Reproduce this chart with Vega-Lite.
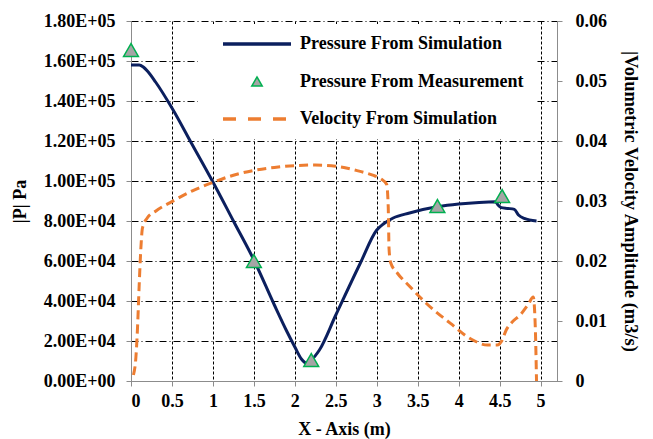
{
  "$schema": "https://vega.github.io/schema/vega-lite/v6.json",
  "width": 426,
  "height": 360,
  "autosize": {"type": "none"},
  "padding": {"left": 131, "top": 21, "right": 96, "bottom": 58},
  "background": "white",
  "config": {"view": {"stroke": null}, "font": "Liberation Serif", "axis": {"labelOverlap": false}},
  "datasets": {
    "pressure": [
      {"x": 0, "p": 158000}, {"x": 0.1, "p": 158000}, {"x": 0.15, "p": 157000}, {"x": 0.2, "p": 155000},
      {"x": 0.3, "p": 149500}, {"x": 0.5, "p": 136500}, {"x": 0.75, "p": 118000}, {"x": 1.0, "p": 99500},
      {"x": 1.25, "p": 80000}, {"x": 1.5, "p": 60500}, {"x": 1.75, "p": 38000}, {"x": 1.9, "p": 25000},
      {"x": 2.0, "p": 17000}, {"x": 2.08, "p": 11000}, {"x": 2.14, "p": 9000}, {"x": 2.2, "p": 10500},
      {"x": 2.3, "p": 15500}, {"x": 2.5, "p": 33000}, {"x": 2.8, "p": 59000}, {"x": 3.0, "p": 75500},
      {"x": 3.08, "p": 78500}, {"x": 3.2, "p": 81500}, {"x": 3.4, "p": 84000}, {"x": 3.75, "p": 87200},
      {"x": 4.0, "p": 88500}, {"x": 4.25, "p": 89300}, {"x": 4.45, "p": 89600}, {"x": 4.48, "p": 88000},
      {"x": 4.52, "p": 86700}, {"x": 4.6, "p": 86300}, {"x": 4.68, "p": 85800}, {"x": 4.73, "p": 83000},
      {"x": 4.8, "p": 81300}, {"x": 4.95, "p": 80000}
    ],
    "measured": [
      {"x": 0, "p": 165500}, {"x": 1.5, "p": 60000}, {"x": 2.2, "p": 10500},
      {"x": 3.74, "p": 87500}, {"x": 4.53, "p": 92500}
    ],
    "velocity": [
      {"x": 0.03, "v": 0.001}, {"x": 0.06, "v": 0.004}, {"x": 0.08, "v": 0.009}, {"x": 0.1, "v": 0.016},
      {"x": 0.12, "v": 0.022}, {"x": 0.14, "v": 0.0255}, {"x": 0.2, "v": 0.0272}, {"x": 0.3, "v": 0.0283},
      {"x": 0.5, "v": 0.0299}, {"x": 0.75, "v": 0.0317}, {"x": 1.0, "v": 0.0331}, {"x": 1.25, "v": 0.0343},
      {"x": 1.5, "v": 0.0351}, {"x": 1.75, "v": 0.0356}, {"x": 2.0, "v": 0.0359}, {"x": 2.25, "v": 0.036},
      {"x": 2.5, "v": 0.0358}, {"x": 2.75, "v": 0.0351}, {"x": 2.95, "v": 0.0343}, {"x": 3.05, "v": 0.0337},
      {"x": 3.12, "v": 0.0328}, {"x": 3.14, "v": 0.029}, {"x": 3.15, "v": 0.022}, {"x": 3.17, "v": 0.0197},
      {"x": 3.25, "v": 0.018}, {"x": 3.4, "v": 0.0158}, {"x": 3.6, "v": 0.013}, {"x": 3.9, "v": 0.0096},
      {"x": 4.15, "v": 0.007}, {"x": 4.35, "v": 0.006}, {"x": 4.47, "v": 0.006}, {"x": 4.53, "v": 0.0068},
      {"x": 4.58, "v": 0.0085}, {"x": 4.65, "v": 0.0098}, {"x": 4.75, "v": 0.011}, {"x": 4.85, "v": 0.0128},
      {"x": 4.91, "v": 0.014}, {"x": 4.935, "v": 0.009}, {"x": 4.95, "v": 0.0}
    ]
  },
  "layer": [
    {
      "encoding": {
        "x": {
          "field": "x", "type": "quantitative",
          "scale": {"domain": [0, 5.2], "nice": false, "zero": false},
          "axis": {
            "values": [0, 0.5, 1, 1.5, 2, 2.5, 3, 3.5, 4, 4.5, 5],
            "tickCount": 30,
            "format": "~g", "labelOverlap": false,
            "grid": true, "gridColor": "black", "gridDash": [3, 2], "gridWidth": 1, "gridOpacity": 1,
            "domainColor": "#8c8c8c", "tickColor": "#8c8c8c", "tickSize": 5,
            "labelFont": "Liberation Serif", "labelFontWeight": "bold", "labelFontSize": 18,
            "labelColor": "black", "labelPadding": 6,
            "title": "X - Axis (m)", "titleFont": "Liberation Serif", "titleFontWeight": "bold",
            "titleFontSize": 18, "titleColor": "black", "titlePadding": 10
          }
        },
        "y": {
          "field": "p", "type": "quantitative",
          "scale": {"domain": [0, 180000], "nice": false},
          "axis": {
            "values": [0, 20000, 40000, 60000, 80000, 100000, 120000, 140000, 160000, 180000],
            "tickCount": 30,
            "labelExpr": "replace(format(datum.value, '.2e'), 'e+', 'E+0')", "labelOverlap": false,
            "grid": true, "gridColor": "black", "gridDash": [7, 3, 1, 3], "gridWidth": 1, "gridOpacity": 1,
            "domainColor": "#8c8c8c", "tickColor": "#8c8c8c", "tickSize": 5,
            "labelFont": "Liberation Serif", "labelFontWeight": "bold", "labelFontSize": 18,
            "labelColor": "black", "labelPadding": 11,
            "title": "|P| Pa", "titleFont": "Liberation Serif", "titleFontWeight": "bold",
            "titleFontSize": 18, "titleColor": "black", "titlePadding": 14
          }
        }
      },
      "layer": [
        {
          "data": {"name": "pressure"},
          "mark": {"type": "line", "strokeWidth": 3, "interpolate": "monotone"},
          "encoding": {
            "color": {
              "datum": "Pressure From Simulation", "type": "nominal",
              "scale": {
                "domain": ["Pressure From Simulation", "Pressure From Measurement", "Velocity From Simulation"],
                "range": ["#0B1F5E", "#00B050", "#ED7D31"]
              },
              "legend": {
                "orient": "none", "legendX": 67, "legendY": 3, "direction": "vertical",
                "title": null, "fillColor": "white", "padding": 11,
                "labelFont": "Liberation Serif", "labelFontWeight": "bold", "labelFontSize": 18,
                "labelColor": "black", "labelLimit": 0, "symbolSize": 120, "rowPadding": 19.5,
                "labelExpr": "datum.label + '\u00a0\u00a0\u00a0'",
                "encode": {
                  "symbols": {
                    "update": {
                      "x": {"value": 48},
                      "shape": {"signal": "datum.value === 'Pressure From Measurement' ? 'triangle-up' : 'stroke'"},
                      "size": {"signal": "datum.value === 'Pressure From Measurement' ? 110 : 4624"},
                      "fill": {"signal": "datum.value === 'Pressure From Measurement' ? '#A5A5A5' : 'transparent'"},
                      "fillOpacity": {"value": 1},
                      "stroke": {"signal": "datum.value === 'Pressure From Measurement' ? '#00B050' : (datum.value === 'Velocity From Simulation' ? '#ED7D31' : '#0B1F5E')"},
                      "strokeWidth": {"signal": "datum.value === 'Pressure From Measurement' ? 1.5 : 3.5"},
                      "strokeDash": {"signal": "datum.value === 'Velocity From Simulation' ? [13, 12] : [1, 0]"},
                      "opacity": {"value": 1}
                    }
                  },
                  "labels": {
                    "update": {"x": {"value": 91}}
                  }
                }
              }
            }
          }
        },
        {
          "data": {"name": "measured"},
          "mark": {"type": "point", "shape": "triangle-up", "size": 220, "fill": "#A5A5A5", "fillOpacity": 1, "strokeWidth": 1.5, "opacity": 1},
          "encoding": {
            "color": {"datum": "Pressure From Measurement", "type": "nominal"}
          }
        }
      ]
    },
    {
      "data": {"name": "velocity"},
      "mark": {"type": "line", "strokeWidth": 3, "strokeDash": [9, 5], "interpolate": "monotone"},
      "encoding": {
        "x": {"field": "x", "type": "quantitative"},
        "y": {
          "field": "v", "type": "quantitative",
          "scale": {"domain": [0, 0.06], "nice": false},
          "axis": {
            "orient": "right",
            "values": [0, 0.01, 0.02, 0.03, 0.04, 0.05, 0.06],
            "tickCount": 30,
            "labelExpr": "datum.value == 0 ? '0' : format(datum.value, '.2f')", "labelOverlap": false,
            "grid": false,
            "domainColor": "#8c8c8c", "tickColor": "#8c8c8c", "tickSize": 5,
            "labelFont": "Liberation Serif", "labelFontWeight": "bold", "labelFontSize": 18,
            "labelColor": "black", "labelPadding": 13,
            "title": "|Volumetric Velocity Amplitude (m3/s)", "titleFont": "Liberation Serif", "titleFontWeight": "bold",
            "titleFontSize": 18.5, "titleColor": "black", "titlePadding": 14
          }
        },
        "color": {"datum": "Velocity From Simulation", "type": "nominal"}
      }
    }
  ],
  "resolve": {"scale": {"y": "independent"}}
}
